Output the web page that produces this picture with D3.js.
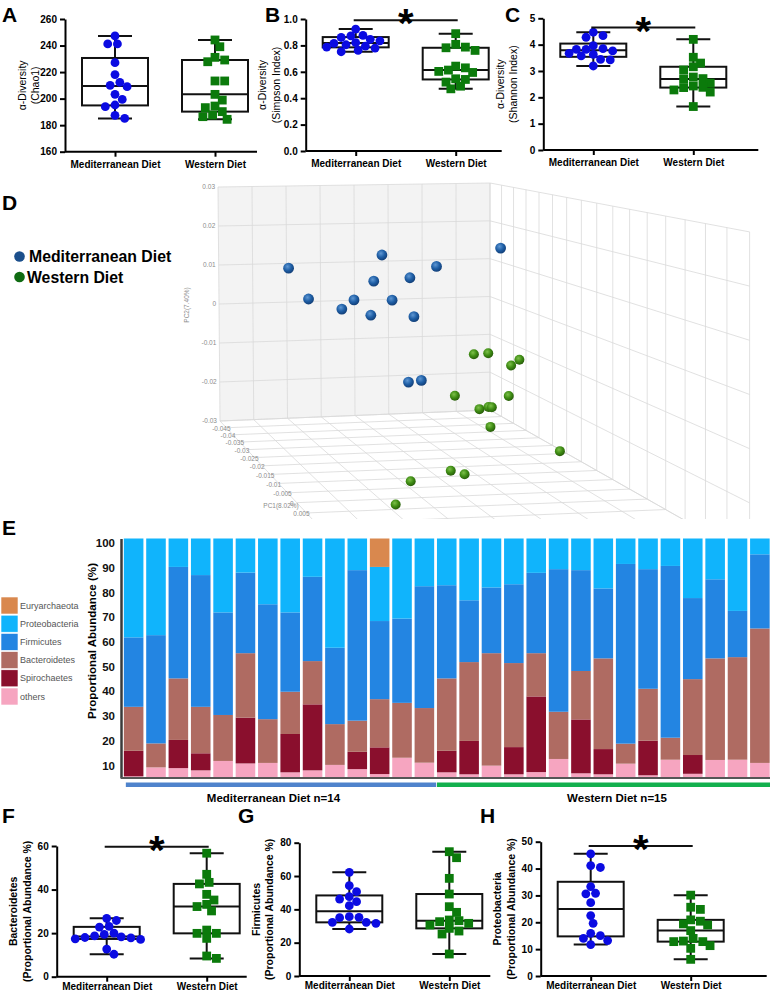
<!DOCTYPE html>
<html>
<head>
<meta charset="utf-8">
<script src="https://cdn.jsdelivr.net/npm/d3@7"></script>
<style>
  body { margin: 0; background: #fff; }
  svg { display: block; font-family: "Liberation Sans", Arial, sans-serif; }
  .bx .domain, .bx .tick line { stroke: #000; stroke-width: 2; }
  .bx text { font-size: 10px; font-weight: bold; fill: #000; }
  .ey .domain { stroke: #3a3a3a; stroke-width: 2.5; }
  .ey text { font-size: 11.5px; font-weight: bold; fill: #111; }
  .ex .domain { stroke: #555; stroke-width: 2; }
</style>
</head>
<body>
<div id="chart"></div>
<script>
// ---------- data ----------
const groups = ["Mediterranean Diet", "Western Diet"];

// A - Chao1
const chaoMed = [247.2, 241.2, 241.2, 227.1, 218.1, 212.3, 210.0, 209.0, 203.2, 199.4, 195.2, 193.9, 187.4, 185.1];
const chaoWest = [244.2, 239.1, 231.1, 229.1, 227.8, 213.3, 213.3, 203.2, 198.9, 194.4, 193.2, 190.2, 187.6, 186.4, 184.4];
// B - Simpson
const simpsonMed = [0.924, 0.876, 0.872, 0.860, 0.846, 0.835, 0.821, 0.815, 0.805, 0.795, 0.787, 0.780, 0.762, 0.752];
const simpsonWest = [0.889, 0.808, 0.787, 0.782, 0.762, 0.643, 0.630, 0.613, 0.603, 0.595, 0.547, 0.542, 0.522, 0.491, 0.471];
// C - Shannon
const shannonMed = [4.47, 4.34, 4.28, 3.96, 3.85, 3.82, 3.82, 3.76, 3.67, 3.63, 3.57, 3.44, 3.42, 3.19];
const shannonWest = [4.20, 3.52, 3.30, 3.16, 3.04, 2.77, 2.71, 2.70, 2.54, 2.43, 2.38, 2.37, 2.28, 2.20, 1.65];
// F - Bacteroidetes %
const bactMed = [26.8, 25.8, 23.1, 22.8, 20.0, 19.4, 18.7, 18.3, 18.0, 17.8, 17.4, 17.1, 12.7, 10.3];
const bactWest = [56.7, 47.0, 43.3, 42.6, 37.8, 35.2, 33.2, 32.2, 30.2, 21.4, 19.9, 19.9, 17.6, 9.5, 8.4];
// G - Firmicutes %
const firmMed = [62.2, 54.2, 50.6, 47.6, 46.2, 44.6, 42.2, 35.6, 35.2, 35.0, 32.2, 32.2, 31.6, 28.2];
const firmWest = [74.6, 71.0, 58.6, 49.2, 41.6, 38.2, 33.6, 33.2, 32.6, 31.6, 30.6, 28.6, 27.0, 25.2, 13.2];
// H - Proteobacteria %
const proteoMed = [45.5, 41.1, 40.4, 33.3, 30.8, 30.6, 27.3, 22.5, 19.6, 15.9, 15.0, 14.0, 13.2, 11.7];
const proteoWest = [30.1, 25.6, 24.8, 20.9, 20.4, 19.4, 19.0, 16.9, 14.0, 13.0, 12.8, 12.8, 11.3, 10.3, 6.2];

// D - PCoA coordinates
const medPC1 = [-0.021, -0.029, -0.021, -0.029, -0.013, -0.021, -0.029, -0.021, -0.013, -0.029, -0.021, -0.029, -0.021, -0.029];
const medPC2 = [0.0136, 0.0044, 0.0037, 0.0039, 0.0041, 0.0101, 0.0147, 0.0055, 0.0188, 0.0116, 0.0107, -0.0006, -0.0140, -0.0163];
const medPC3 = [-0.0300, -0.0210, -0.0158, -0.0084, -0.0123, -0.0072, -0.0006, -0.0023, 0.0214, 0.0145, 0.0025, 0.0082, 0.0020, 0.0102];
const westPC1 = [-0.005, -0.005, 0.003, 0.003, -0.005, 0.003, 0.003, 0.003, 0.003, 0.011, 0.019, 0.019, 0.019, 0.019, 0.027];
const westPC2 = [-0.0031, -0.0030, -0.0034, -0.0022, -0.0122, -0.0099, -0.0125, -0.0121, -0.0122, -0.0134, -0.0157, -0.0188, -0.0196, -0.0206, -0.0215];
const westPC3 = [0.0092, 0.0128, 0.0130, 0.0150, 0.0044, 0.0124, 0.0053, 0.0075, 0.0083, 0.0026, 0.0128, -0.0117, -0.0086, -0.0207, -0.0286];
const pc2Ticks = [-0.03, -0.02, -0.01, 0, 0.01, 0.02, 0.03];
const pc1Ticks = d3.range(17).map(i => +(-0.045 + 0.005 * i).toFixed(3));

// E - phylum abundance per sample (first 14 Mediterranean, next 15 Western)
const samples = d3.range(1, 30);
const medCount = 14;
const phyla = ["others", "Spirochaetes", "Bacteroidetes", "Firmicutes", "Proteobacteria", "Euryarchaeota"];
const othersPct = [3.8, 7.4, 7.1, 6.2, 10.0, 9.0, 9.2, 5.4, 6.2, 8.4, 6.7, 4.7, 11.3, 9.3, 5.4, 4.6, 8.1, 4.6, 5.5, 10.8, 5.0, 4.6, 8.9, 4.2, 10.5, 4.8, 10.4, 10.5, 9.2];
const spiroPct = [10.3, 0, 11.4, 6.9, 0, 18.5, 0, 15.5, 26.7, 0, 7.0, 10.8, 0, 0, 8.7, 13.5, 0, 11.0, 30.6, 0, 21.8, 10.2, 0, 14.0, 0, 7.6, 0, 0, 0];
const bactPct = [17.8, 9.7, 24.9, 18.8, 18.6, 26.1, 17.7, 17.1, 17.5, 16.5, 12.6, 19.5, 22.2, 22.1, 29.3, 31.9, 45.5, 34.0, 17.5, 19.1, 19.6, 36.7, 8.1, 21.0, 8.9, 30.7, 41.1, 41.5, 54.4];
const firmPct = [28.1, 43.8, 45.1, 53.3, 41.5, 32.6, 46.5, 32.1, 34.1, 30.9, 60.9, 31.6, 34.1, 49.3, 37.7, 25.0, 26.6, 31.9, 32.5, 57.7, 40.8, 28.3, 72.7, 48.4, 69.5, 32.8, 32.0, 18.7, 30.0];
const proteoPct = [40.0, 39.1, 11.5, 14.8, 29.9, 13.8, 26.6, 29.9, 15.5, 44.2, 12.8, 21.9, 32.4, 19.3, 18.9, 25.0, 19.8, 18.5, 13.9, 12.4, 12.8, 20.2, 10.3, 12.4, 11.1, 24.1, 16.5, 29.3, 6.4];
const euryPct = [0, 0, 0, 0, 0, 0, 0, 0, 0, 0, 0, 11.5, 0, 0, 0, 0, 0, 0, 0, 0, 0, 0, 0, 0, 0, 0, 0, 0, 0];
const abundanceTicks = [10, 20, 30, 40, 50, 60, 70, 80, 90, 100];

const phylumColor = d3.scaleOrdinal()
    .domain(phyla)
    .range(["#f6a5c0", "#8a0f2d", "#af6b62", "#2385e2", "#10b4fc", "#d9884e"]);

// ---------- svg ----------
const svg = d3.select("#chart").append("svg")
    .attr("width", 770)
    .attr("height", 992);
const defs = svg.append("defs");

// panel letters
[["A", 2, 22], ["B", 265, 22], ["C", 505, 22], ["D", 2, 210], ["E", 2, 535], ["F", 2, 823], ["G", 238, 823], ["H", 480, 823]]
    .forEach(([t, x, y]) => {
        svg.append("text").attr("x", x).attr("y", y)
            .style("font-size", "21px").style("font-weight", "bold").text(t);
    });

// ---------- box plots ----------
function quartile(sorted, p) {
    // GraphPad style: position (n+1)p
    const pos = (sorted.length + 1) * p;
    const lo = Math.floor(pos), frac = pos - lo;
    if (lo < 1) return sorted[0];
    if (lo >= sorted.length) return sorted[sorted.length - 1];
    return sorted[lo - 1] + frac * (sorted[lo] - sorted[lo - 1]);
}

function swarm(vals, y, r) {
    const placed = [];
    return vals.map(v => {
        const py = y(v);
        let off = 0;
        for (let i = 0; i < 60; i++) {
            const c = (i % 2 ? 1 : -1) * Math.ceil(i / 2) * r * 0.55;
            if (placed.every(p => Math.hypot(p[0] - c, p[1] - py) >= 2 * r * 0.92)) { off = c; break; }
        }
        placed.push([off, py]);
        return off;
    });
}

function boxPanel(p) {
    const g = svg.append("g").attr("transform", `translate(${p.left},0)`);
    const y = d3.scaleLinear().domain(p.domain).range([p.bottom, p.top]);
    const x = d3.scalePoint().domain(groups).range([0, 200]).padding(0.5);

    g.append("g").attr("class", "bx")
        .call(d3.axisLeft(y).tickValues(p.ticks).tickFormat(p.fmt).tickSize(5).tickPadding(3).tickSizeOuter(0));
    const xg = g.append("g").attr("class", "bx")
        .attr("transform", `translate(0,${p.bottom})`)
        .call(d3.axisBottom(x).tickSize(5).tickPadding(p.xPad).tickSizeOuter(0));
    xg.select(".domain").attr("d", `M0,0H${p.axisLen}`);

    // y title (two lines)
    const midY = (p.top + p.bottom) / 2;
    p.title.forEach((t, i) => {
        g.append("text")
            .attr("transform", `translate(${-43 + i * 13.5},${midY}) rotate(-90)`)
            .attr("text-anchor", "middle").attr("dy", "0.35em")
            .style("font-size", "10.5px").style("font-weight", p.titleWeight)
            .text(t);
    });

    const bw = 66, cw = 34, r = 4.4;
    p.data.forEach((vals, gi) => {
        const cx = x(groups[gi]);
        const s = vals.slice().sort(d3.ascending);
        const q1 = quartile(s, 0.25), med = quartile(s, 0.5), q3 = quartile(s, 0.75);
        const lo = s[0], hi = s[s.length - 1];
        const box = g.append("g").attr("stroke", "#111").attr("stroke-width", 2).attr("fill", "none");
        box.append("line").attr("x1", cx).attr("x2", cx).attr("y1", y(hi)).attr("y2", y(q3));
        box.append("line").attr("x1", cx).attr("x2", cx).attr("y1", y(q1)).attr("y2", y(lo));
        box.append("line").attr("x1", cx - cw / 2).attr("x2", cx + cw / 2).attr("y1", y(hi)).attr("y2", y(hi));
        box.append("line").attr("x1", cx - cw / 2).attr("x2", cx + cw / 2).attr("y1", y(lo)).attr("y2", y(lo));
        box.append("rect").attr("x", cx - bw / 2).attr("width", bw)
            .attr("y", y(q3)).attr("height", y(q1) - y(q3));
        box.append("line").attr("x1", cx - bw / 2).attr("x2", cx + bw / 2).attr("y1", y(med)).attr("y2", y(med));

        const offs = swarm(vals, y, r);
        if (gi === 0) {
            g.append("g").selectAll("circle").data(vals).join("circle")
                .attr("cx", (d, i) => cx + offs[i]).attr("cy", d => y(d))
                .attr("r", r).attr("fill", "#0b0be2");
        } else {
            g.append("g").selectAll("rect").data(vals).join("rect")
                .attr("x", (d, i) => cx + offs[i] - r).attr("y", d => y(d) - r)
                .attr("width", 2 * r).attr("height", 2 * r).attr("fill", "#0b7a0b");
        }
    });

    if (p.sig != null) {
        const x1 = x(groups[0]) - 2, x2 = x(groups[1]) + 2;
        g.append("line").attr("x1", x1).attr("x2", x2).attr("y1", y(p.sig)).attr("y2", y(p.sig))
            .attr("stroke", "#111").attr("stroke-width", 2);
        g.append("text").attr("x", (x1 + x2) / 2).attr("y", y(p.sig) + 17)
            .attr("text-anchor", "middle")
            .style("font-size", "40px").style("font-weight", "bold").text("*");
    }
}

boxPanel({ left: 65, top: 19, bottom: 151.7, domain: [160, 260], ticks: d3.range(160, 261, 20), fmt: d3.format("d"), xPad: 4,
    axisLen: 192, title: ["α-Diversity", "(Chao1)"], titleWeight: "normal", data: [chaoMed, chaoWest], sig: null });
boxPanel({ left: 305.7, top: 19, bottom: 151, domain: [0, 1], ticks: d3.range(0, 1.01, 0.2), fmt: d3.format(".1f"), xPad: 4,
    axisLen: 196, title: ["α-Diversity", "(Simpson Index)"], titleWeight: "normal", data: [simpsonMed, simpsonWest], sig: 0.99 });
boxPanel({ left: 543.3, top: 18.3, bottom: 150, domain: [0, 5], ticks: d3.range(0, 6), fmt: d3.format("d"), xPad: 4,
    axisLen: 215, title: ["α-Diversity", "(Shannon Index)"], titleWeight: "normal", data: [shannonMed, shannonWest], sig: 4.65 });
boxPanel({ left: 56.7, top: 846, bottom: 976.7, domain: [0, 60], ticks: [0, 20, 40, 60], fmt: d3.format("d"), xPad: 1,
    axisLen: 190, title: ["Bacteroidetes", "(Proportional Abundance %)"], titleWeight: "bold", data: [bactMed, bactWest], sig: 59.7 });
boxPanel({ left: 299.3, top: 842.7, bottom: 976, domain: [0, 80], ticks: [0, 20, 40, 60, 80], fmt: d3.format("d"), xPad: 1,
    axisLen: 191, title: ["Firmicutes", "(Proportional Abundance %)"], titleWeight: "bold", data: [firmMed, firmWest], sig: null });
boxPanel({ left: 540.7, top: 841.7, bottom: 976, domain: [0, 50], ticks: [0, 10, 20, 30, 40, 50], fmt: d3.format("d"), xPad: 1,
    axisLen: 226, title: ["Proteobacteria", "(Proportional Abundance %)"], titleWeight: "bold", data: [proteoMed, proteoWest], sig: 48.4 });

// ---------- D: 3D PCoA ----------
const pc3X = d3.scaleLinear().domain([-0.04, 0.04]).range([0, 1]);
const pc2Y = d3.scaleLinear().domain([-0.03, 0.03]).range([0, 1]);
const pc1Z = d3.scaleLinear().domain([-0.045, 0.035]).range([0, 1]);
const vp = [-110, 70];  // vanishing point of the depth axis
function project(X, Y, Z) {
    const bx = 220 + 270 * X - 2 * Y * (1 - X);
    const by = 421 - 11 * X - (234 - 7 * X) * Y;
    const k = 1 / (1 - 0.302 * Z);
    return [vp[0] + (bx - vp[0]) * k, vp[1] + (by - vp[1]) * k];
}

defs.append("clipPath").attr("id", "clipD")
    .append("rect").attr("x", 150).attr("y", 175).attr("width", 620).attr("height", 344);
const gD = svg.append("g").attr("clip-path", "url(#clipD)");
const line = d3.line();

gD.append("path")
    .attr("d", line([project(0, 0, 0), project(1, 0, 0), project(1, 1, 0), project(0, 1, 0)]) + "Z")
    .attr("fill", "#f3f3f3");

const gridLines = [];
d3.range(0, 9).forEach(i => {
    gridLines.push([project(i / 8, 0, 0), project(i / 8, 1, 0)]);     // back wall verticals
    gridLines.push([project(i / 8, 0, 0), project(i / 8, 0, 1)]);     // floor depth lines
});
d3.range(0, 7).forEach(j => {
    gridLines.push([project(0, j / 6, 0), project(1, j / 6, 0)]);     // back wall horizontals
    gridLines.push([project(1, j / 6, 0), project(1, j / 6, 1)]);     // right wall horizontals
});
d3.range(0, 17).forEach(m => {
    gridLines.push([project(1, 0, m / 16), project(1, 1, m / 16)]);   // right wall verticals
    gridLines.push([project(0, 0, m / 16), project(1, 0, m / 16)]);   // floor cross lines
});
gD.append("g").selectAll("path").data(gridLines).join("path")
    .attr("d", d => line(d)).attr("fill", "none")
    .attr("stroke", "#d9d9d9").attr("stroke-width", 0.8);

// axis labels
const fmtPC = v => v === 0 ? "0" : String(v);
gD.append("g").selectAll("text").data(pc2Ticks).join("text")
    .attr("x", d => project(0, pc2Y(d), 0)[0] - 3)
    .attr("y", d => project(0, pc2Y(d), 0)[1])
    .attr("dy", "0.35em").attr("text-anchor", "end")
    .style("font-size", "6.5px").style("fill", "#8c8c8c").text(fmtPC);
gD.append("g").selectAll("text").data(pc1Ticks).join("text")
    .attr("x", d => project(0, 0, pc1Z(d) + 1 / 16)[0] - 5)
    .attr("y", d => project(0, 0, pc1Z(d) + 1 / 16)[1] + 1)
    .attr("dy", "0.35em").attr("text-anchor", "middle")
    .style("font-size", "6.5px").style("fill", "#8c8c8c").text(fmtPC);
svg.append("text").attr("transform", "translate(187,305) rotate(-90)")
    .attr("text-anchor", "middle").attr("dy", "0.35em")
    .style("font-size", "6.5px").style("fill", "#8c8c8c").text("PC2(7.40%)");
svg.append("text").attr("x", 281).attr("y", 506).attr("text-anchor", "middle").attr("dy", "0.35em")
    .style("font-size", "6.5px").style("fill", "#8c8c8c").text("PC1(8.02%)");

// spheres
function sphereGrad(id, light, base, dark) {
    const gr = defs.append("radialGradient").attr("id", id)
        .attr("cx", "40%").attr("cy", "35%").attr("r", "65%");
    gr.append("stop").attr("offset", "0%").attr("stop-color", light);
    gr.append("stop").attr("offset", "55%").attr("stop-color", base);
    gr.append("stop").attr("offset", "100%").attr("stop-color", dark);
}
sphereGrad("sphBlue", "#5f97d3", "#1f5fa6", "#123f78");
sphereGrad("sphGreen", "#7dc04a", "#3f8d14", "#285e0a");

const pts = medPC1.map((d, i) => ({ pc1: d, pc2: medPC2[i], pc3: medPC3[i], grad: "sphBlue", r: 5.4 }))
    .concat(westPC1.map((d, i) => ({ pc1: d, pc2: westPC2[i], pc3: westPC3[i], grad: "sphGreen", r: 5 })))
    .sort((a, b) => a.pc1 - b.pc1);
gD.append("g").selectAll("circle").data(pts).join("circle")
    .attr("cx", d => project(pc3X(d.pc3), pc2Y(d.pc2), pc1Z(d.pc1))[0])
    .attr("cy", d => project(pc3X(d.pc3), pc2Y(d.pc2), pc1Z(d.pc1))[1])
    .attr("r", d => d.r)
    .attr("fill", d => `url(#${d.grad})`);

// legend D
[["Mediterranean Diet", "#1b4f8c", 256.5, 29], ["Western Diet", "#0f6b12", 277, 27]].forEach(([t, c, yy, tx]) => {
    svg.append("circle").attr("cx", 19.5).attr("cy", yy).attr("r", 5.3).attr("fill", c);
    svg.append("text").attr("x", tx).attr("y", yy).attr("dy", "0.36em")
        .style("font-size", "15.8px").style("font-weight", "bold").text(t);
});

// ---------- E: stacked bars ----------
const rows = samples.map((s, i) => ({
    sample: s,
    others: othersPct[i], Spirochaetes: spiroPct[i], Bacteroidetes: bactPct[i],
    Firmicutes: firmPct[i], Proteobacteria: proteoPct[i], Euryarchaeota: euryPct[i]
}));
const series = d3.stack().keys(phyla)(rows);

const xE = d3.scaleBand().domain(samples).range([122.5, 771]).paddingInner(0.125).paddingOuter(0.06);
const yE = d3.scaleLinear().domain([3.1, 100]).range([778, 538.5]).clamp(true);

svg.append("g").selectAll("g").data(series).join("g")
    .attr("fill", d => phylumColor(d.key))
    .selectAll("rect").data(d => d).join("rect")
    .attr("x", d => xE(d.data.sample))
    .attr("width", xE.bandwidth())
    .attr("y", d => yE(d[1]))
    .attr("height", d => Math.max(0, yE(d[0]) - yE(d[1])));

const eyg = svg.append("g").attr("class", "ey").attr("transform", "translate(121,0)")
    .call(d3.axisLeft(yE).tickValues(abundanceTicks).tickSize(0).tickPadding(6).tickSizeOuter(0));
eyg.selectAll(".tick text").attr("y", 4.5);
svg.append("g").attr("class", "ex").attr("transform", "translate(0,778)")
    .call(d3.axisBottom(xE).tickSize(0).tickSizeOuter(0).tickFormat(""))
    .select(".domain").attr("d", "M121,0H771");

svg.append("text").attr("transform", "translate(92,641) rotate(-90)")
    .attr("text-anchor", "middle").attr("dy", "0.35em")
    .style("font-size", "11.6px").style("font-weight", "bold").text("Proportional Abundance (%)");

// group bars under the chart
const medEnd = xE(samples[medCount - 1]) + xE.bandwidth();
const westStart = xE(samples[medCount]);
svg.append("rect").attr("x", xE(samples[0]) + 2).attr("y", 782.5).attr("width", medEnd - xE(samples[0])).attr("height", 4.5)
    .attr("fill", "#4f83cc");
svg.append("rect").attr("x", westStart).attr("y", 782.5).attr("width", 771 - westStart).attr("height", 4.5)
    .attr("fill", "#12b04e");
svg.append("text").attr("x", 273.5).attr("y", 802).attr("text-anchor", "middle")
    .style("font-size", "11.5px").style("font-weight", "bold").text("Mediterranean Diet n=14");
svg.append("text").attr("x", 617).attr("y", 802).attr("text-anchor", "middle")
    .style("font-size", "11.5px").style("font-weight", "bold").text("Western Diet n=15");

// legend E
const legendE = svg.append("g").attr("transform", "translate(1,597)");
phyla.slice().reverse().forEach((k, i) => {
    legendE.append("rect").attr("x", 0).attr("y", i * 18.2).attr("width", 17).attr("height", 17)
        .attr("fill", phylumColor(k)).attr("stroke", "#fff").attr("stroke-width", 0.6);
    legendE.append("text").attr("x", 19).attr("y", i * 18.2 + 8.5).attr("dy", "0.35em")
        .style("font-size", "9px").style("fill", "#555").text(k);
});
</script>
</body>
</html>
